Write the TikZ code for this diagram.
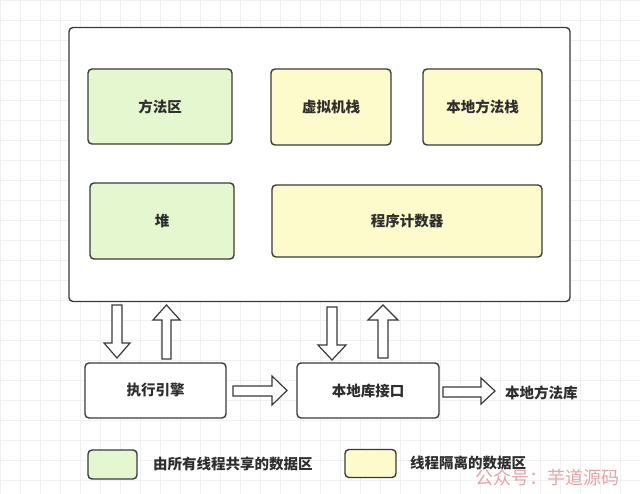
\documentclass[tikz,border=0pt]{standalone}
\usepackage{fontspec}
\setmainfont{Noto Sans CJK SC}
\definecolor{gfill}{HTML}{E4F7CF}
\definecolor{yfill}{HTML}{FDFBCB}
\definecolor{bord}{HTML}{3A3A3A}
\definecolor{txt}{HTML}{2E2E2E}
\definecolor{wm}{HTML}{E3A6A8}
\tikzset{
  box/.style={draw=bord, line width=1.4pt, rounded corners=4pt, inner sep=0pt, font=\fontsize{14.5}{16}\selectfont\bfseries, text=txt},
  gbox/.style={box, fill=gfill},
  ybox/.style={box, fill=yfill},
  wbox/.style={box, fill=white},
  barrow/.style={draw=bord, line width=1.2pt, fill=white, line join=miter},
  lbl/.style={font=\fontsize{14.5}{16}\selectfont\bfseries, text=txt, inner sep=0pt, anchor=west}
}
\begin{document}
\begin{tikzpicture}[x=1pt,y=-1pt]
\useasboundingbox (0,0) rectangle (640,494);
\fill[white] (0,0) rectangle (640,494);
\draw[black!6, line width=0.5pt, step=20pt] (0,0) grid (640,494);
% outer
\node[wbox, line width=1.4pt, minimum width=501pt, minimum height=274pt] (jvm) at (319.5,164.5) {};
% inner boxes
\node[gbox, minimum width=144pt, minimum height=75pt] (method) at (160,106.5) {方法区};
\node[ybox, minimum width=120pt, minimum height=76pt] (vmstack) at (331,107) {虚拟机栈};
\node[ybox, minimum width=119pt, minimum height=76pt] (nstack) at (482.5,107) {本地方法栈};
\node[gbox, minimum width=144pt, minimum height=76pt] (heap) at (162,221) {堆};
\node[ybox, minimum width=270pt, minimum height=72pt] (pc) at (407,221) {程序计数器};
% bottom boxes
\node[wbox, minimum width=141pt, minimum height=55pt] (engine) at (155.5,390.5) {执行引擎};
\node[wbox, minimum width=142pt, minimum height=55pt] (jni) at (368,390.5) {本地库接口};
\node[lbl] (nlib) at (505,393) {本地方法库};
% vertical block arrows
\draw[barrow] (112,305) -- (122,305) -- (122,343) -- (130,343) -- (117,358) -- (104,343) -- (112,343) -- cycle;
\draw[barrow] (162,359) -- (171,359) -- (171,320) -- (180,320) -- (166.5,305) -- (153,320) -- (162,320) -- cycle;
\draw[barrow] (327,307) -- (337,307) -- (337,345) -- (346,345) -- (332,360) -- (318,345) -- (327,345) -- cycle;
\draw[barrow] (378,358) -- (388,358) -- (388,320) -- (398,320) -- (383,305) -- (368,320) -- (378,320) -- cycle;
% horizontal block arrows
\draw[barrow] (233,386) -- (272,386) -- (272,376) -- (287,390.5) -- (272,405) -- (272,396) -- (233,396) -- cycle;
\draw[barrow] (443,387) -- (481,387) -- (481,378) -- (495,391) -- (481,404) -- (481,397) -- (443,397) -- cycle;
% legend
\node[gbox, minimum width=49pt, minimum height=29pt] (lg) at (112.5,464.5) {};
\node[lbl] (lgt) at (153,464) {由所有线程共享的数据区};
\node[ybox, minimum width=51pt, minimum height=28pt] (ly) at (370.5,463.5) {};
\node[lbl] (lyt) at (410,463) {线程隔离的数据区};
% watermark
\node[font=\fontsize{18}{19}\selectfont, text=wm, anchor=west, inner sep=0pt] (wmk) at (475,478) {公众号：芋道源码};
\end{tikzpicture}
\end{document}
